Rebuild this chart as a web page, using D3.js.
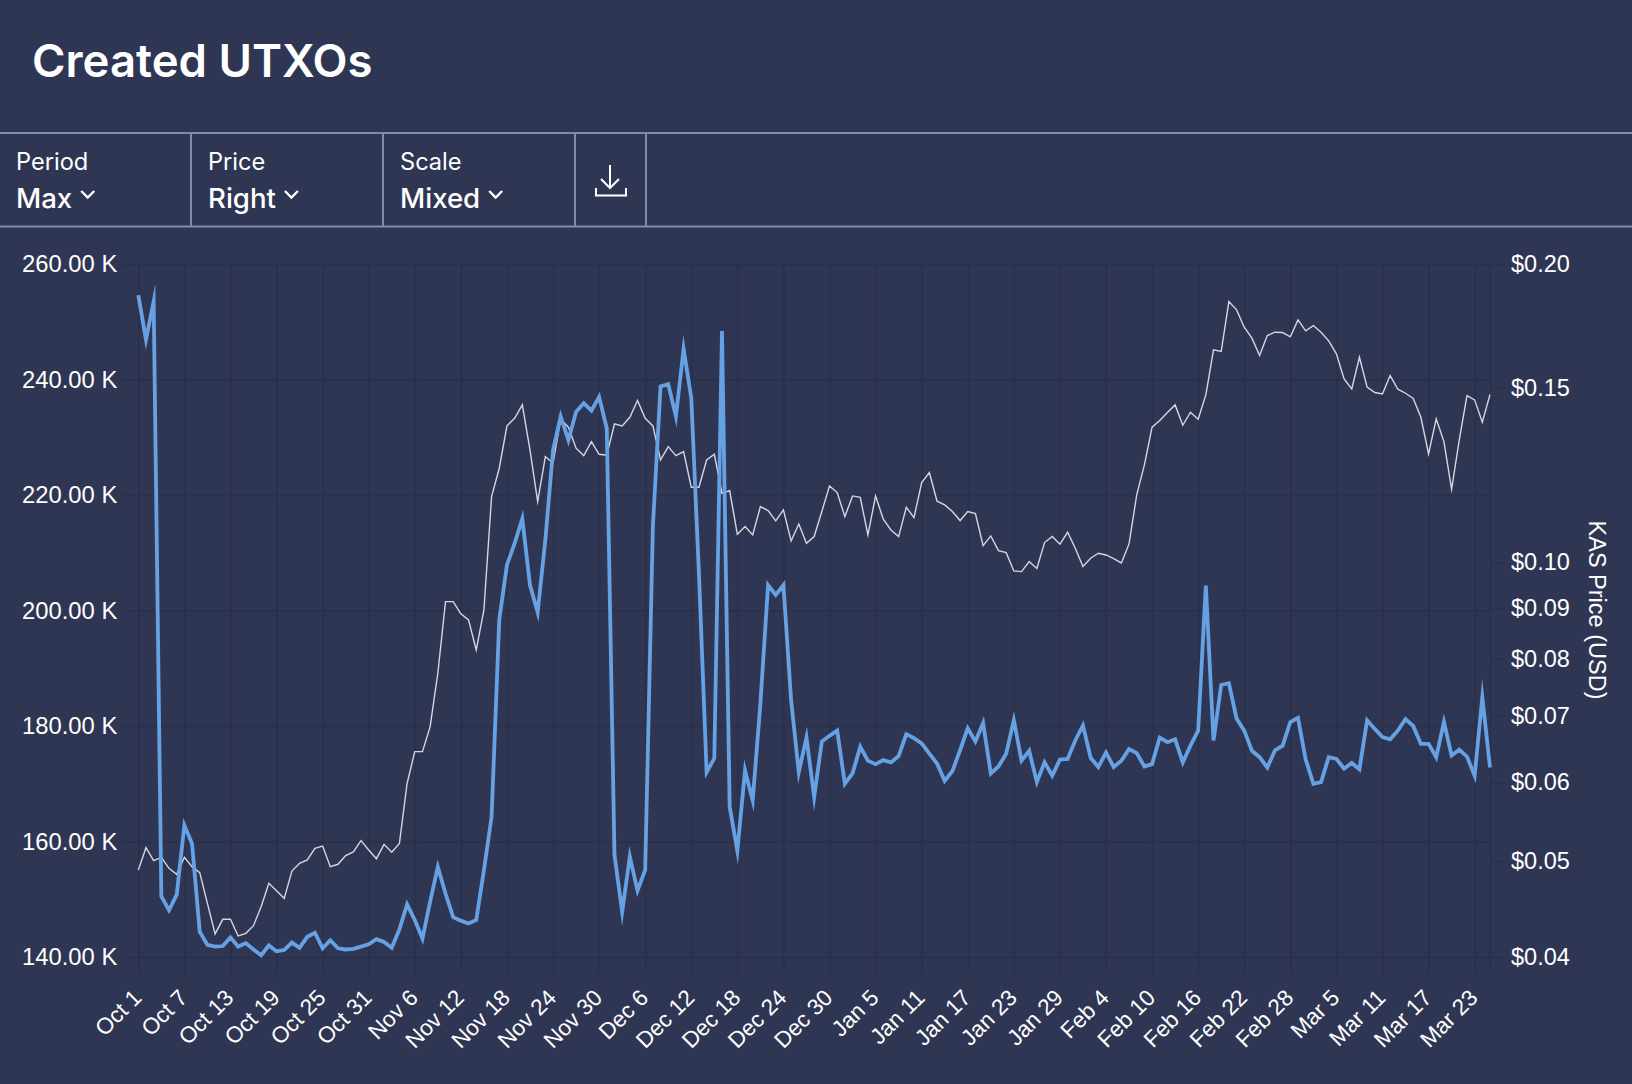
<!DOCTYPE html>
<html>
<head>
<meta charset="utf-8">
<script src="https://cdn.jsdelivr.net/npm/d3@7"></script>
<style>
  html, body { margin: 0; padding: 0; background: #2f3654; }
  svg { display: block; }
  .head { font-family: Inter, sans-serif; fill: #fff; }
  .axis text { font-family: "Liberation Sans", Arial, sans-serif; font-size: 23.8px; fill: #fff; }
  .axis line { stroke: #293049; stroke-width: 1.5; }
  .axis path { display: none; }
</style>
</head>
<body>
<div id="chart"></div>
<script>
// created UTXOs per day, in thousands, one value a day from Oct 1
var utxos = [
  254.6,246.9,253.5,150.5,148.1,150.8,162.8,159.6,144.4,142.1,
  141.8,141.9,143.4,141.8,142.4,141.3,140.3,142.0,141.0,141.2,
  142.5,141.6,143.5,144.2,141.5,142.9,141.5,141.3,141.4,141.8,
  142.2,143.1,142.6,141.6,144.8,149.1,146.4,143.2,149.6,155.6,
  151.0,146.9,146.3,145.8,146.4,155,164.3,198.4,207.9,211.6,
  215.9,204.4,199.7,212.2,227.8,233.6,229.5,234.4,235.9,234.6,
  237.0,231.5,157.7,147.8,157.4,151.5,155.1,214.5,238.8,239.2,
  233.6,245.3,236.8,206.4,172.0,174.4,248.4,166.0,158.4,172.3,
  167.1,183.9,204.4,202.7,204.4,184.5,172,178,167.7,177.3,
  178.3,179.2,170,171.8,176.4,174,173.4,174.1,173.7,174.8,
  178.6,177.9,177,175.2,173.5,170.5,172.2,175.8,179.6,177.3,
  180.5,171.8,173,175.2,181,174,175.7,170.3,173.7,171.4,
  174.2,174.3,177.5,180.1,174.5,172.9,175.4,172.9,174,176,
  175.3,173,173.4,178,177.2,177.7,173.7,176.6,179.2,204.3,
  177.5,187.1,187.4,181.3,179.2,175.7,174.6,172.8,175.8,176.6,
  180.7,181.4,174.2,170,170.3,174.6,174.3,172.6,173.6,172.5,
  181,179.5,178.1,177.7,179.2,181.2,180,176.9,176.9,174.6,
  180.7,174.9,175.9,174.7,171.4,185,172.8
];

// KAS price in USD, same days
var price = [
  .04896,.05156,.05003,.05042,.04915,.04847,.05042,.04934,.04866,.04531,
  .0422,.04366,.04366,.042,.04226,.04302,.04497,.04746,.04666,.04584,
  .04884,.04972,.05011,.05148,.05176,.04934,.04961,.05062,.05105,.05241,
  .05128,.05026,.05196,.05101,.05208,.05988,.06445,.06445,.0683,.07731,
  .0913,.0913,.08874,.08751,.0816,.08956,.11653,.12446,.13732,.13979,
  .14419,.12987,.11519,.12788,.12592,.13946,.1369,.13038,.12817,.13242,
  .12857,.12828,.13796,.13732,.14011,.14565,.13979,.13732,.1269,.13088,
  .12817,.12937,.11908,.11908,.1269,.12857,.11744,.11817,.10677,.10869,
  .1066,.11386,.11281,.11013,.11298,.10513,.10936,.10456,.1062,.11255,
  .11946,.11762,.11124,.11671,.11635,.1066,.11671,.11056,.10785,.1062,
  .11368,.11098,.12038,.12321,.11528,.11431,.11255,.11022,.11255,.11202,
  .104,.10636,.1028,.1023,.09805,.0979,.1002,.09859,.10473,.1062,
  .10432,.10726,.10336,.09905,.10098,.10216,.10176,.1009,.09989,.1044,
  .11699,.12543,.1369,.13903,.14164,.14419,.13753,.14175,.13946,.14759,
  .16384,.16321,.18331,.17979,.17269,.16834,.1617,.16939,.1707,.17056,
  .16886,.17565,.17122,.17336,.1707,.1673,.16232,.15316,.14965,.16107,
  .15024,.14838,.14793,.15436,.14953,.14814,.14633,.14011,.12867,.13957,
  .13242,.11853,.13293,.14736,.14588,.13849,.14769
];

var tickLabels = ["Oct 1","Oct 7","Oct 13","Oct 19","Oct 25","Oct 31","Nov 6","Nov 12","Nov 18","Nov 24","Nov 30",
  "Dec 6","Dec 12","Dec 18","Dec 24","Dec 30","Jan 5","Jan 11","Jan 17","Jan 23","Jan 29",
  "Feb 4","Feb 10","Feb 16","Feb 22","Feb 28","Mar 5","Mar 11","Mar 17","Mar 23"];
var leftTicks = [140,160,180,200,220,240,260];
var rightTicks = [0.04,0.05,0.06,0.07,0.08,0.09,0.10,0.15,0.20];
var controls = [["Period","Max"],["Price","Right"],["Scale","Mixed"]];

var W = 1632, H = 1084;
var plot = {left: 138.3, right: 1490, top: 264, bottom: 957};

var svg = d3.select("#chart").append("svg").attr("width", W).attr("height", H);

// header
svg.append("text").attr("class", "head").attr("x", 32).attr("y", 77)
  .attr("font-size", 45.5).attr("font-weight", 600).text("Created UTXOs");

var rule = "#7e8bb2";
[133, 226.5].forEach(function(y) {
  svg.append("line").attr("x1", 0).attr("x2", W).attr("y1", y).attr("y2", y)
    .attr("stroke", rule).attr("stroke-width", 2);
});
[191, 383, 575, 646].forEach(function(x) {
  svg.append("line").attr("x1", x).attr("x2", x).attr("y1", 133).attr("y2", 226.5)
    .attr("stroke", rule).attr("stroke-width", 2);
});

controls.forEach(function(c, i) {
  var x0 = 16 + i * 192;
  svg.append("text").attr("class", "head").attr("x", x0).attr("y", 170)
    .attr("font-size", 23.6).text(c[0]);
  var val = svg.append("text").attr("class", "head").attr("x", x0).attr("y", 208)
    .attr("font-size", 27.6).attr("font-weight", 500).text(c[1]);
  var end = x0 + val.node().getComputedTextLength();
  svg.append("path").attr("d", "M" + (end + 9) + " 191l6.5 6.5l6.5 -6.5")
    .attr("fill", "none").attr("stroke", "#fff").attr("stroke-width", 2.4);
});

// download icon
svg.append("path")
  .attr("d", "M610 165V188M601 179l9 9l9 -9M596 188v7.5h30v-7.5")
  .attr("fill", "none").attr("stroke", "#fff").attr("stroke-width", 2);

// scales
var days = d3.utcDay.range(new Date(Date.UTC(2023, 9, 1)), new Date(Date.UTC(2024, 2, 26)));
var x = d3.scaleUtc().domain([days[0], days[days.length - 1]]).range([plot.left, plot.right]);
var yLeft = d3.scaleLinear().domain([140, 260]).range([plot.bottom, plot.top]);
var yRight = d3.scaleLog().domain([0.04, 0.20]).range([plot.bottom, plot.top]);

// axes, grid comes from the tick lines
var xTicks = tickLabels.map(function(d, i) { return days[i * 6]; }).concat([days[days.length - 1]]);

var xAxis = svg.append("g").attr("class", "axis")
  .attr("transform", "translate(0," + plot.bottom + ")")
  .call(d3.axisBottom(x).tickValues(xTicks).tickFormat(function(d, i) { return tickLabels[i] || ""; }));
xAxis.selectAll(".tick line").attr("y1", plot.top - plot.bottom).attr("y2", 16);
xAxis.selectAll(".tick text")
  .attr("text-anchor", "end")
  .attr("dy", 0).attr("y", 0)
  .style("font-size", "22.6px")
  .attr("transform", "translate(4,42) rotate(-45)");

var leftAxis = svg.append("g").attr("class", "axis")
  .attr("transform", "translate(" + plot.left + ",0)")
  .call(d3.axisLeft(yLeft).tickValues(leftTicks).tickFormat(function(d) { return d3.format(".2f")(d) + " K"; }));
leftAxis.selectAll(".tick line").attr("x1", -16).attr("x2", plot.right - plot.left);
leftAxis.selectAll(".tick text").attr("x", -21);

var rightAxis = svg.append("g").attr("class", "axis")
  .attr("transform", "translate(" + plot.right + ",0)")
  .call(d3.axisRight(yRight).tickValues(rightTicks).tickFormat(function(d) { return "$" + d3.format(".2f")(d); }));
rightAxis.selectAll(".tick line").attr("x2", 15);
rightAxis.selectAll(".tick text").attr("x", 21).style("font-size", "23.5px");

svg.append("text").attr("class", "axis")
  .attr("transform", "translate(1589,610) rotate(90)")
  .attr("text-anchor", "middle")
  .attr("font-family", "Liberation Sans, Arial, sans-serif")
  .attr("font-size", 23.5).attr("fill", "#fff")
  .text("KAS Price (USD)");

// the two lines
svg.append("path").datum(price)
  .attr("fill", "none").attr("stroke", "#d4d7df").attr("stroke-width", 1.4)
  .attr("stroke-linejoin", "miter").attr("stroke-miterlimit", 10)
  .attr("d", d3.line().x(function(d, i) { return x(days[i]); }).y(function(d) { return yRight(d); }));

svg.append("path").datum(utxos)
  .attr("fill", "none").attr("stroke", "#66a1e3").attr("stroke-width", 3.8)
  .attr("stroke-linejoin", "miter").attr("stroke-miterlimit", 10)
  .attr("d", d3.line().x(function(d, i) { return x(days[i]); }).y(function(d) { return yLeft(d); }));
</script>
</body>
</html>
